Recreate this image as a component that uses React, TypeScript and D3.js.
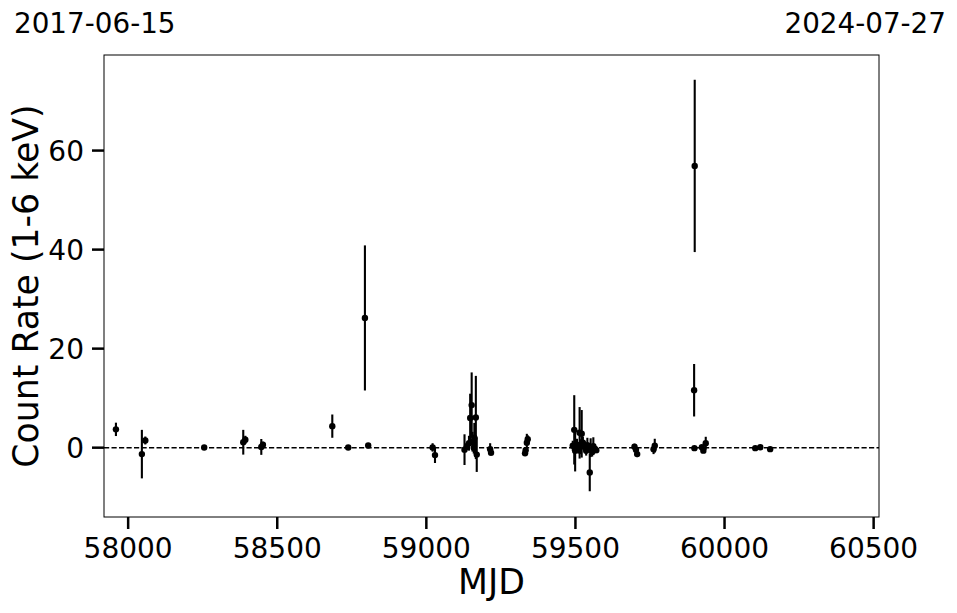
import React from "react";
import * as d3 from "d3";

const mjd = [57959, 58046, 58057.5, 58255, 58386, 58393, 58446.5, 58452, 58684.6, 58738, 58794, 58805,
  59021, 59029, 59128, 59136, 59143, 59147, 59152, 59155, 59159, 59161, 59166, 59169, 59214, 59217,
  59331, 59333, 59337, 59340,
  59491, 59496, 59499, 59505, 59510, 59514, 59518, 59521, 59525, 59529, 59536, 59540, 59548, 59551, 59556, 59560, 59565, 59570,
  59698, 59703, 59707, 59762, 59766, 59898, 59899, 59900, 59924, 59929, 59937, 60103, 60120, 60153];
const rate = [3.7, -1.3, 1.45, 0.05, 1.1, 1.6, 0.15, 0.6, 4.35, 0.05, 26.2, 0.45,
  0.05, -1.5, -0.4, 0.3, 0.9, 6.0, 8.6, 1.2, 0.0, 2.0, 6.1, -1.4, -0.3, -1.0,
  -1.15, -0.5, 1.0, 1.7,
  0.4, 3.6, -0.6, 0.6, -0.2, 3.0, 0.2, 2.8, 1.0, 0.4, -0.6, 0.5, -5.0, 0.0, -0.8, 0.3, -0.2, -0.5,
  0.2, -0.4, -1.3, -0.3, 0.4, 11.6, -0.1, 56.9, 0.1, -0.6, 0.9, -0.1, 0.1, -0.3];
const rateErr = [1.35, 4.9, 0.8, 0.3, 2.5, 0.8, 1.6, 0.6, 2.35, 0.3, 14.65, 0.3,
  0.85, 1.6, 3.1, 0.8, 1.5, 4.9, 6.6, 2.0, 1.2, 3.0, 8.4, 3.5, 1.2, 0.6,
  0.5, 0.6, 1.8, 0.8,
  1.0, 7.0, 4.2, 1.2, 1.0, 5.2, 1.5, 4.8, 1.2, 0.9, 1.0, 1.5, 3.8, 1.9, 1.0, 1.8, 0.9, 0.6,
  0.6, 0.6, 0.6, 1.0, 1.4, 5.3, 0.3, 17.4, 0.4, 0.5, 1.3, 0.3, 0.3, 0.3];

const xTicks = [58000, 58500, 59000, 59500, 60000, 60500];
const yTicks = [0, 20, 40, 60];
const xDomain = [57919, 60518];
const yDomain = [-14.0, 79.3];
const startDate = "2017-06-15";
const endDate = "2024-07-27";
const xLabel = "MJD";
const yLabel = "Count Rate (1-6 keV)";

const W = 957, H = 613;
const L = 104, R = 879, T = 55, B = 517;
const FONT = "DejaVu Sans";

export default function App() {
  const x = d3.scaleLinear().domain(xDomain).range([L, R]);
  const y = d3.scaleLinear().domain(yDomain).range([B, T]);
  const pts = mjd.map((m, i) => ({ m, v: rate[i], e: rateErr[i] }));
  return (
    <svg width={W} height={H} style={{ position: "absolute", left: 0, top: 0, background: "#fff" }} fontFamily={FONT}>
      <rect x={0} y={0} width={W} height={H} fill="#fff" />
      <defs>
        <clipPath id="plotclip"><rect x={L} y={T} width={R - L} height={B - T} /></clipPath>
      </defs>
      <line x1={L} x2={R} y1={y(0)} y2={y(0)} stroke="#000" strokeWidth={1.4} strokeDasharray="5.2,2.3" />
      <g clipPath="url(#plotclip)">
        {pts.map((p, i) => (
          <line key={"e" + i} x1={x(p.m)} x2={x(p.m)} y1={y(p.v - p.e)} y2={y(p.v + p.e)} stroke="#000" strokeWidth={2.1} />
        ))}
        {pts.map((p, i) => (
          <circle key={"c" + i} cx={x(p.m)} cy={y(p.v)} r={3.2} fill="#000" />
        ))}
      </g>
      <rect x={L} y={T} width={R - L} height={B - T} fill="none" stroke="#000" strokeWidth={1} />
      {xTicks.map((t) => (
        <g key={"x" + t}>
          <line x1={x(t)} x2={x(t)} y1={B} y2={B + 12} stroke="#000" strokeWidth={2.5} />
          <text x={x(t)} y={558} textAnchor="middle" fontSize={28} fill="#000">{t}</text>
        </g>
      ))}
      {yTicks.map((t) => (
        <g key={"y" + t}>
          <line x1={L - 12} x2={L} y1={y(t)} y2={y(t)} stroke="#000" strokeWidth={2.5} />
          <text x={84} y={y(t)} dy="0.36em" textAnchor="end" fontSize={28} fill="#000">{t}</text>
        </g>
      ))}
      <text x={(L + R) / 2} y={594} textAnchor="middle" fontSize={34.7} fill="#000">{xLabel}</text>
      <text transform={`translate(38,${(T + B) / 2}) rotate(-90)`} textAnchor="middle" fontSize={34.7} fill="#000">{yLabel}</text>
      <text x={14} y={32.5} textAnchor="start" fontSize={27.8} fill="#000">{startDate}</text>
      <text x={946} y={32.5} textAnchor="end" fontSize={27.8} fill="#000">{endDate}</text>
    </svg>
  );
}
